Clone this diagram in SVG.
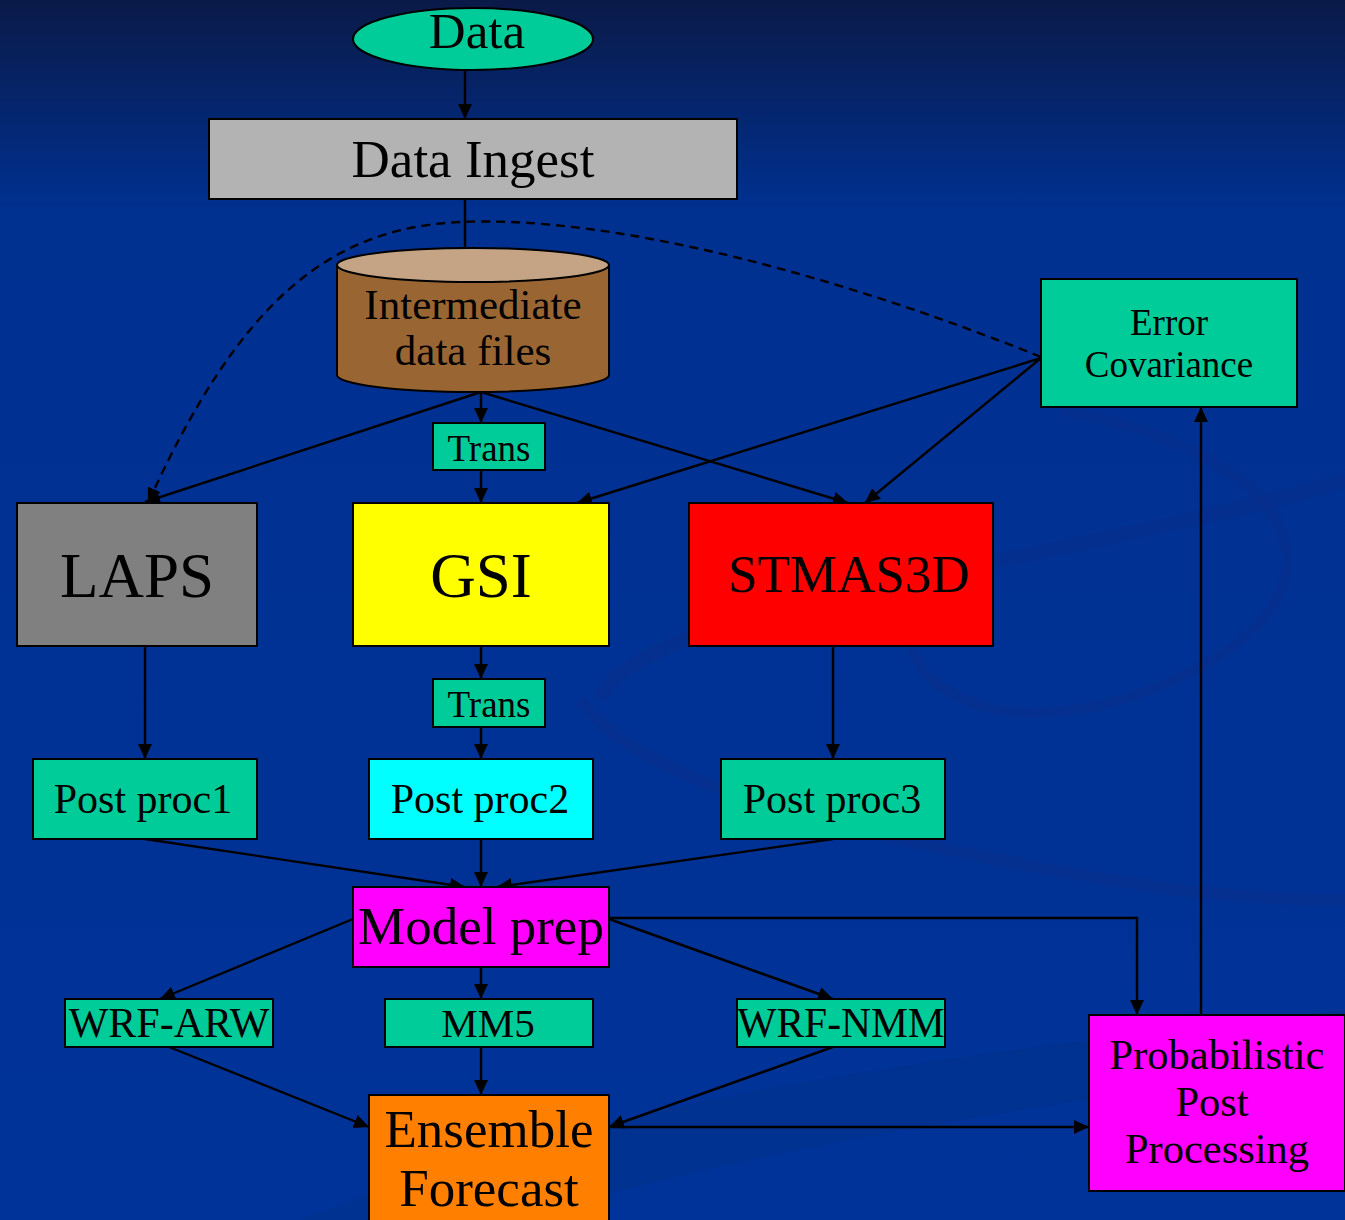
<svg xmlns="http://www.w3.org/2000/svg" width="1345" height="1220" viewBox="0 0 1345 1220">
<defs>
<linearGradient id="bg" x1="0" y1="0" x2="0" y2="1">
<stop offset="0" stop-color="#0a1a48"/>
<stop offset="0.17" stop-color="#003090"/>
<stop offset="1" stop-color="#003399"/>
</linearGradient>
<marker id="ah" viewBox="0 0 15 14" refX="15" refY="7" markerWidth="15" markerHeight="14" markerUnits="userSpaceOnUse" orient="auto">
<path d="M0,0 L15,7 L0,14 Z" fill="#000"/>
</marker>
</defs>
<style>
.n{stroke:#000;stroke-width:2}
.t{font-family:"Liberation Serif","Times New Roman",serif;fill:#000;text-anchor:middle}
.c{fill:none;stroke:#000;stroke-width:2.4;marker-end:url(#ah)}
.sw{fill:none;stroke:#0a2f8a;stroke-opacity:0.45}
</style>
<rect width="1345" height="1220" fill="url(#bg)"/>
<g id="background">
<path class="sw" stroke-width="10" d="M1060,410 C1330,460 1370,620 1120,700 C980,740 900,680 910,620"/>
<path class="sw" stroke-width="14" d="M600,700 C620,640 800,600 1000,560 C1150,530 1280,500 1345,480"/>
<path class="sw" stroke-width="12" d="M580,700 C640,780 800,820 1000,860 C1150,890 1250,900 1345,900"/>
<path fill="#003088" fill-opacity="0.45" d="M300,1220 C600,1100 900,1060 1345,1010 L1345,1060 C1000,1110 700,1160 520,1220 Z"/>
</g>
<g id="connectors">
<path class="c" d="M465,70 L465,119"/>
<path class="c" d="M465,199 L465,262"/>
<path class="c" d="M481,392 L145,502"/>
<path class="c" d="M481,392 L481,423"/>
<path class="c" d="M481,392 L848,503"/>
<path class="c" d="M481,470 L481,503"/>
<path class="c" d="M1041,358 L577,503"/>
<path class="c" d="M1041,358 L865,503"/>
<path class="c" stroke-dasharray="9,6" d="M1041,357 C850,280 620,215 460,222 C330,228 240,300 148,503"/>
<path class="c" d="M145,646 L145,759"/>
<path class="c" d="M481,646 L481,679"/>
<path class="c" d="M481,727 L481,759"/>
<path class="c" d="M833,646 L833,759"/>
<path class="c" d="M145,839 L465,887"/>
<path class="c" d="M481,839 L481,887"/>
<path class="c" d="M833,839 L497,887"/>
<path class="c" d="M353,919 L160,999"/>
<path class="c" d="M481,967 L481,999"/>
<path class="c" d="M609,919 L833,999"/>
<path class="c" d="M609,918 L1137,918 L1137,1015"/>
<path class="c" d="M169,1047 L369,1127"/>
<path class="c" d="M481,1047 L481,1095"/>
<path class="c" d="M833,1047 L609,1127"/>
<path class="c" d="M609,1127 L1089,1127"/>
<path class="c" d="M1201,1015 L1201,407"/>
</g>
<g id="data">
<ellipse class="n" cx="473" cy="39" rx="120" ry="31" fill="#00cc99"/>
<text class="t" x="477" y="48" font-size="51">Data</text>
</g>
<g id="ingest">
<rect class="n" x="209" y="119" width="528" height="80" fill="#b3b3b3"/>
<text class="t" x="473" y="177" font-size="53">Data Ingest</text>
</g>
<g id="files">
<path class="n" d="M337,265 L337,375 A136,17 0 0 0 609,375 L609,265" fill="#996633"/>
<ellipse class="n" cx="473" cy="265" rx="136" ry="17" fill="#c4a484"/>
<text class="t" x="473" y="319" font-size="43">Intermediate</text>
<text class="t" x="473" y="365" font-size="43">data files</text>
</g>
<g id="errcov">
<rect class="n" x="1041" y="279" width="256" height="128" fill="#00cc99"/>
<text class="t" x="1169" y="335" font-size="37">Error</text>
<text class="t" x="1169" y="377" font-size="37">Covariance</text>
</g>
<g id="trans1">
<rect class="n" x="433" y="423" width="112" height="47" fill="#00cc99"/>
<text class="t" x="489" y="461" font-size="37">Trans</text>
</g>
<g id="laps">
<rect class="n" x="17" y="503" width="240" height="143" fill="#808080"/>
<text class="t" x="137" y="597" font-size="63">LAPS</text>
</g>
<g id="gsi">
<rect class="n" x="353" y="503" width="256" height="143" fill="#ffff00"/>
<text class="t" x="481" y="597" font-size="63">GSI</text>
</g>
<g id="stmas">
<rect class="n" x="689" y="503" width="304" height="143" fill="#ff0000"/>
<text class="t" x="849" y="592" font-size="53">STMAS3D</text>
</g>
<g id="trans2">
<rect class="n" x="433" y="679" width="112" height="48" fill="#00cc99"/>
<text class="t" x="489" y="717" font-size="37">Trans</text>
</g>
<g id="pp1">
<rect class="n" x="33" y="759" width="224" height="80" fill="#00cc99"/>
<text class="t" x="143" y="813" font-size="42">Post proc1</text>
</g>
<g id="pp2">
<rect class="n" x="369" y="759" width="224" height="80" fill="#00ffff"/>
<text class="t" x="480" y="813" font-size="42">Post proc2</text>
</g>
<g id="pp3">
<rect class="n" x="721" y="759" width="224" height="80" fill="#00cc99"/>
<text class="t" x="832" y="813" font-size="42">Post proc3</text>
</g>
<g id="modelprep">
<rect class="n" x="353" y="887" width="256" height="80" fill="#ff00ff"/>
<text class="t" x="481" y="944" font-size="53">Model prep</text>
</g>
<g id="wrfarw">
<rect class="n" x="65" y="999" width="208" height="48" fill="#00cc99"/>
<text class="t" x="169" y="1037" font-size="42">WRF-ARW</text>
</g>
<g id="mm5">
<rect class="n" x="385" y="999" width="208" height="48" fill="#00cc99"/>
<text class="t" x="488" y="1037" font-size="41">MM5</text>
</g>
<g id="wrfnmm">
<rect class="n" x="737" y="999" width="208" height="48" fill="#00cc99"/>
<text class="t" x="841" y="1037" font-size="41.5">WRF-NMM</text>
</g>
<g id="ensemble">
<rect class="n" x="369" y="1095" width="240" height="135" fill="#ff8000"/>
<text class="t" x="489" y="1147" font-size="53">Ensemble</text>
<text class="t" x="489" y="1206" font-size="53">Forecast</text>
</g>
<g id="prob">
<rect class="n" x="1089" y="1015" width="256" height="176" fill="#ff00ff"/>
<text class="t" x="1217" y="1069" font-size="42.5">Probabilistic</text>
<text class="t" x="1212" y="1116" font-size="42.5">Post</text>
<text class="t" x="1217" y="1163" font-size="42.5">Processing</text>
</g>
</svg>
